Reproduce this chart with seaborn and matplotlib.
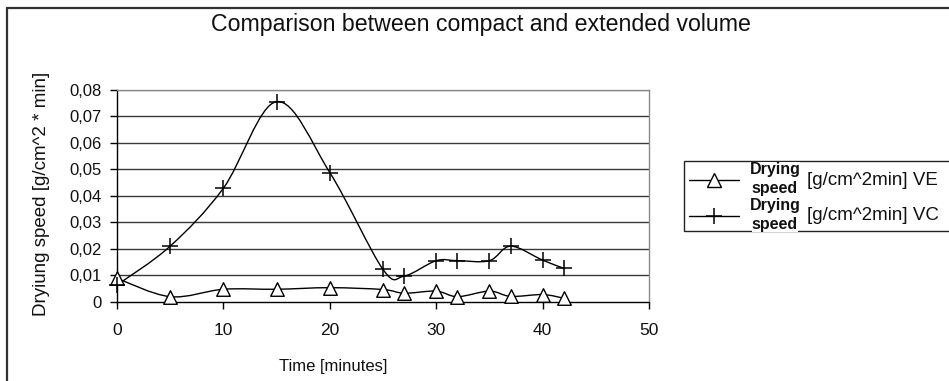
import numpy as np
import pandas as pd
import matplotlib
matplotlib.use("Agg")
import matplotlib.pyplot as plt
import seaborn as sns
from matplotlib.path import Path
from matplotlib.patches import PathPatch, Rectangle
from matplotlib.lines import Line2D
from matplotlib.ticker import FuncFormatter

# ---- data ----
time_min = [0, 5, 10, 15, 20, 25, 27, 30, 32, 35, 37, 40, 42]
speed_ve = [0.0088, 0.0019, 0.0047, 0.0047, 0.0053, 0.0046, 0.0032, 0.0040, 0.0019, 0.0040, 0.0020, 0.0027, 0.0013]
speed_vc = [0.0063, 0.0210, 0.0429, 0.0756, 0.0488, 0.0122, 0.0097, 0.0155, 0.0155, 0.0155, 0.0210, 0.0157, 0.0126]
title = "Comparison between compact and extended volume"
xlabel = "Time [minutes]"
ylabel = "Dryiung speed [g/cm^2 * min]"
legend_units = ["[g/cm^2min] VE", "[g/cm^2min] VC"]
legend_bold = ["Drying", "speed"]
xticks = [0, 10, 20, 30, 40, 50]
yticks = [0, 0.01, 0.02, 0.03, 0.04, 0.05, 0.06, 0.07, 0.08]

sns.set_theme(style="white")
plt.rcParams['font.family'] = ['Liberation Sans', 'DejaVu Sans']
TXT = "#111111"

df = pd.DataFrame({"t": time_min, "VE": speed_ve, "VC": speed_vc})

fig = plt.figure(figsize=(9.49, 3.81), dpi=100)


def fx(px):
    return px / 949


def fy(py):
    return 1 - py / 381


ax = fig.add_axes([fx(117), fy(301.7), fx(649) - fx(117), fy(90) - fy(301.7)])


def smooth_path(xs, ys):
    """Excel-like smoothed line: cubic Bezier segments (Catmull-Rom style)."""
    pts = np.column_stack([xs, ys]).astype(float)
    n = len(pts)
    verts = [pts[0]]
    codes = [Path.MOVETO]
    for i in range(n - 1):
        p0 = pts[i - 1] if i > 0 else pts[i]
        p1 = pts[i]
        p2 = pts[i + 1]
        p3 = pts[i + 2] if i + 2 < n else pts[i + 1]
        c1 = p1 + (p2 - p0) / 6.0
        c2 = p2 - (p3 - p1) / 6.0
        verts += [c1, c2, p2]
        codes += [Path.CURVE4] * 3
    return Path(verts, codes)


# grid lines
for yv in yticks[1:]:
    ax.axhline(yv, color="#3a3a3a" if yv < 0.08 else "#8a8a8a", lw=1.0, zorder=1)

for col in ["VE", "VC"]:
    ax.add_patch(PathPatch(smooth_path(df["t"], df[col]), fill=False, ec="black",
                           lw=1.0, zorder=3, transform=ax.transData))

sns.scatterplot(data=df, x="t", y="VE", marker="^", s=95, facecolor="white",
                edgecolor="black", linewidth=1.0, ax=ax, zorder=5, legend=False, clip_on=False)
sns.scatterplot(data=df, x="t", y="VC", marker="+", s=120, color="black",
                linewidth=1.1, ax=ax, zorder=6, legend=False, clip_on=False)

ax.set_xlim(0, 50)
ax.set_ylim(0, 0.08)
ax.set_xticks(xticks)
ax.set_yticks(yticks)
ax.yaxis.set_major_formatter(FuncFormatter(lambda v, p: "0" if v == 0 else f"{v:.2f}".replace(".", ",")))
ax.set_xticklabels([str(v) for v in xticks], fontsize=12.5)
for lab in ax.get_yticklabels():
    lab.set_fontsize(12)
ax.tick_params(axis="both", which="both", direction="out", length=5, width=1,
               color="black", labelcolor=TXT, bottom=True, left=True)
ax.tick_params(axis="x", pad=10)
ax.tick_params(axis="y", pad=6)
ax.set_xlabel("")
ax.set_ylabel("")
for side in ["left", "bottom"]:
    ax.spines[side].set_color("black")
    ax.spines[side].set_linewidth(1.0)
for side in ["top", "right"]:
    ax.spines[side].set_color("#8a8a8a")
    ax.spines[side].set_linewidth(1.0)
ax.set_facecolor("white")

fig.text(fx(333), fy(367), xlabel, ha="center", va="center", fontsize=12, color=TXT)
fig.text(fx(42), fy(194), ylabel, ha="center", va="center", rotation=90, fontsize=13.5, color=TXT)
fig.text(fx(481), fy(25), title, ha="center", va="center", fontsize=16.7, color=TXT)

# outer border (top and left)
fig.add_artist(Line2D([fx(6.5), 1], [fy(7.5), fy(7.5)], color="#333333", lw=1.6,
                      transform=fig.transFigure))
fig.add_artist(Line2D([fx(6.5), fx(6.5)], [0, fy(7.5)], color="#333333", lw=1.6,
                      transform=fig.transFigure))

# legend (manual)
fig.add_artist(Rectangle((fx(684), fy(231)), fx(949 + 10) - fx(684), fy(161) - fy(231),
                         transform=fig.transFigure, fill=False, ec="#222222", lw=1.0))
rows = [(180, "^"), (216, "+")]
for (ry, mk), unit in zip(rows, legend_units):
    fig.add_artist(Line2D([fx(689), fx(739)], [fy(ry), fy(ry)], color="black", lw=1.0,
                          transform=fig.transFigure))
    if mk == "^":
        fig.add_artist(Line2D([fx(714)], [fy(ry)], marker="^", ms=9.5, mfc="white", mec="black",
                              mew=1.0, transform=fig.transFigure))
    else:
        fig.add_artist(Line2D([fx(714)], [fy(ry)], marker="+", ms=11.5, mec="black",
                              mew=1.1, transform=fig.transFigure))
    for k, word in enumerate(legend_bold):
        fig.text(fx(775), fy(ry - 10.5 + 19.5 * k), word, ha="center", va="center", fontsize=11.5,
                 fontweight="bold", color=TXT,
                 bbox=dict(fc="white", ec="none", pad=0.0))
    fig.text(fx(807), fy(ry), unit, ha="left", va="center", fontsize=13.5, color=TXT)

fig.savefig("out.png", dpi=100, facecolor="white")
